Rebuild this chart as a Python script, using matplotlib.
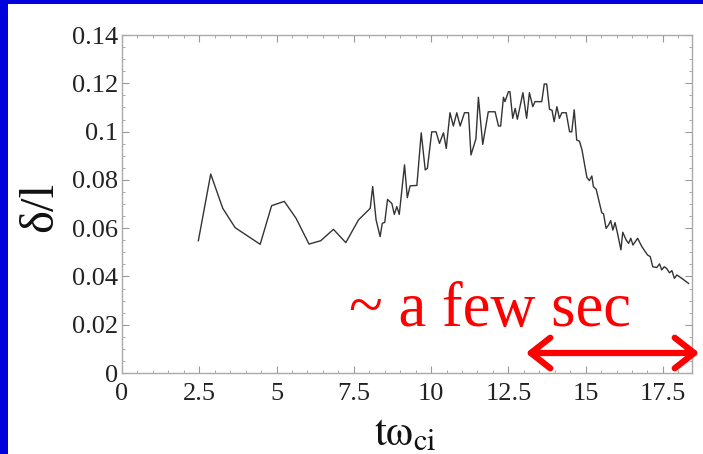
import matplotlib
matplotlib.use("Agg")
import matplotlib.pyplot as plt
from matplotlib.patches import Rectangle, FancyArrowPatch
from matplotlib.ticker import MultipleLocator

plt.rcParams['font.family'] = ['Liberation Serif', 'DejaVu Serif']
plt.rcParams['mathtext.fontset'] = 'stix'

# values
t = [2.47, 2.87, 3.26, 3.66, 4.47, 4.84, 5.25, 5.63, 6.05, 6.43, 6.84, 7.24,
     7.65, 8.03, 8.11, 8.22, 8.35, 8.42, 8.50, 8.59, 8.73, 8.81, 8.89, 8.97,
     9.14, 9.23, 9.32, 9.54, 9.68, 9.81, 9.88, 10.02, 10.16, 10.27, 10.40,
     10.49, 10.61, 10.72, 10.83, 10.94, 11.08, 11.21, 11.29, 11.45, 11.53,
     11.67, 11.85, 12.07, 12.18, 12.25, 12.34, 12.39, 12.50, 12.55, 12.64,
     12.72, 12.79, 12.97, 13.09, 13.18, 13.29, 13.36, 13.58, 13.66, 13.74,
     13.83, 13.91, 13.98, 14.07, 14.15, 14.23, 14.37, 14.48, 14.55, 14.63,
     14.71, 14.80, 14.88, 15.04, 15.12, 15.20, 15.25, 15.34, 15.52, 15.58,
     15.66, 15.74, 15.81, 15.88, 15.95, 16.03, 16.14, 16.20, 16.31, 16.39,
     16.46, 16.53, 16.68, 16.82, 17.00, 17.09, 17.17, 17.30, 17.39, 17.46,
     17.54, 17.62, 17.71, 17.79, 17.87, 17.95, 18.11, 18.33]
delta = [0.0548, 0.0824, 0.0682, 0.0602, 0.0533, 0.0693, 0.0711, 0.0641,
         0.0534, 0.0548, 0.0595, 0.0540, 0.0634, 0.0682, 0.0772, 0.0634,
         0.0565, 0.0620, 0.0624, 0.0719, 0.0702, 0.0657, 0.0689, 0.0657,
         0.0862, 0.0726, 0.0775, 0.0777, 0.0995, 0.0841, 0.0848, 0.0999,
         0.0999, 0.0951, 0.0995, 0.0930, 0.1078, 0.1023, 0.1078, 0.1023,
         0.1078, 0.1078, 0.0903, 0.0970, 0.1142, 0.0947, 0.1082, 0.1082,
         0.1023, 0.1023, 0.1142, 0.1124, 0.1165, 0.1165, 0.1055, 0.1096,
         0.1051, 0.1161, 0.1055, 0.1161, 0.1103, 0.1124, 0.1124, 0.1197,
         0.1197, 0.1092, 0.1089, 0.1041, 0.1103, 0.1055, 0.1078, 0.1078,
         0.0999, 0.0999, 0.1090, 0.0965, 0.0960, 0.0925, 0.0810, 0.0797,
         0.0816, 0.0772, 0.0761, 0.0664, 0.0659, 0.0599, 0.0613, 0.0631,
         0.0592, 0.0623, 0.0579, 0.0510, 0.0583, 0.0551, 0.0537, 0.0558,
         0.0530, 0.0558, 0.0523, 0.0489, 0.0482, 0.0440, 0.0437, 0.0452,
         0.0427, 0.0440, 0.0433, 0.0415, 0.0424, 0.0392, 0.0406, 0.0392,
         0.0371]

xticks = [0, 2.5, 5, 7.5, 10, 12.5, 15, 17.5]
xticklabels = ['0', '2.5', '5', '7.5', '10', '12.5', '15', '17.5']
yticks = [0, 0.02, 0.04, 0.06, 0.08, 0.1, 0.12, 0.14]
yticklabels = ['0', '0.02', '0.04', '0.06', '0.08', '0.1', '0.12', '0.14']

fig = plt.figure(figsize=(7.03, 4.54), dpi=100, facecolor='#0000dd')
# white slide area inside the blue border
fig.patches.append(Rectangle((8 / 703, 0), 1, 1 - 4 / 454, transform=fig.transFigure,
                             facecolor='white', edgecolor='none', zorder=-5))

ax = fig.add_axes([122 / 703, 1 - 373 / 454, 570 / 703, 338 / 454])
ax.plot(t, delta, color='#333333', lw=1.0)

ax.set_xlim(0, 18.44)
ax.set_ylim(0, 0.14)
ax.set_xticks(xticks)
ax.set_xticklabels(xticklabels)
ax.set_yticks(yticks)
ax.set_yticklabels(yticklabels)
ax.xaxis.set_minor_locator(MultipleLocator(0.5))
ax.yaxis.set_minor_locator(MultipleLocator(0.005))
ax.tick_params(which='both', direction='in', top=True, right=True, color='#999999',
               labelsize=19, labelcolor='#222222')
ax.tick_params(which='major', length=5, width=0.8)
ax.tick_params(which='minor', length=2.5, width=0.6)
ax.tick_params(axis='y', pad=3)
ax.tick_params(axis='x', pad=7)
for s in ax.spines.values():
    s.set_color('#aaaaaa')
    s.set_linewidth(1.0)

fig.text(40 / 703, 1 - 207 / 454, 'δ/l', rotation=90, fontsize=35,
         ha='center', va='center', color='#111111')
fig.text(405 / 703, 1 - 435 / 454, r'$\mathrm{t}\mathrm{ω}_{\mathrm{ci}}$', fontsize=31,
         ha='center', va='center', color='#111111')

fig.text(490 / 703, 1 - 326 / 454, '~ a few sec', fontsize=45, color='red',
         ha='center', va='baseline', zorder=5)
arrow = FancyArrowPatch((523 / 703, 1 - 353 / 454), (702 / 703, 1 - 353 / 454),
                        transform=fig.transFigure,
                        arrowstyle='<->,head_length=0.7,head_width=0.55',
                        mutation_scale=20, color='red', lw=4.5, zorder=5)
fig.patches.append(arrow)

fig.savefig('out.png', dpi=100, facecolor=fig.get_facecolor())
